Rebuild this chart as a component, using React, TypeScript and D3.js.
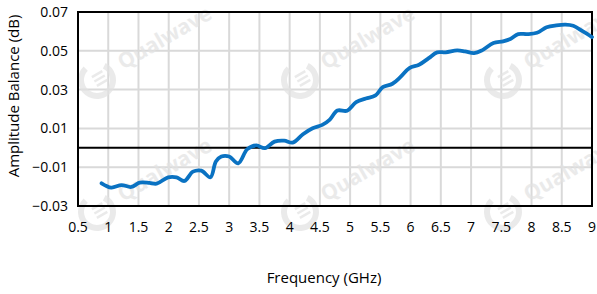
import React from "react";
import * as d3 from "d3";

const freq = [0.89, 1.05, 1.22, 1.38, 1.52, 1.68, 1.8, 1.99, 2.13, 2.26, 2.4, 2.54, 2.69, 2.78, 2.87, 3.0, 3.15, 3.3, 3.45, 3.59, 3.75, 3.91, 4.05, 4.22, 4.38, 4.54, 4.66, 4.79, 4.95, 5.1, 5.26, 5.42, 5.54, 5.7, 5.83, 5.98, 6.14, 6.3, 6.44, 6.58, 6.77, 6.9, 7.05, 7.18, 7.37, 7.53, 7.65, 7.78, 7.93, 8.09, 8.25, 8.41, 8.56, 8.69, 8.85, 9.0];
const balance = [-0.0183, -0.0205, -0.0192, -0.0202, -0.018, -0.0181, -0.0185, -0.0152, -0.0152, -0.0171, -0.0123, -0.0118, -0.0152, -0.0071, -0.0045, -0.0045, -0.008, -0.0007, 0.0012, -0.0002, 0.0032, 0.0037, 0.0027, 0.007, 0.0101, 0.0118, 0.0144, 0.0192, 0.0191, 0.0235, 0.0254, 0.027, 0.0313, 0.033, 0.0364, 0.0411, 0.0428, 0.0462, 0.0492, 0.0492, 0.0502, 0.0497, 0.0488, 0.0502, 0.054, 0.0549, 0.0561, 0.0586, 0.0586, 0.0593, 0.0621, 0.0631, 0.0635, 0.0629, 0.06, 0.0571];
const xTicks = [0.5, 1, 1.5, 2, 2.5, 3, 3.5, 4, 4.5, 5, 5.5, 6, 6.5, 7, 7.5, 8, 8.5, 9];
const yTicks = [-0.03, -0.01, 0.01, 0.03, 0.05, 0.07];
const xTitle = "Frequency (GHz)";
const yTitle = "Amplitude Balance (dB)";
const watermark = "Qualwave";

const W = 597, H = 294;
const L = 78, R = 592, T = 12, B = 206;
const font = "'Open Sans', 'Noto Sans', sans-serif";

export default function App() {
  const x = d3.scaleLinear().domain([0.5, 9]).range([L, R]);
  const y = d3.scaleLinear().domain([-0.03, 0.07]).range([B, T]);
  const pts = freq.map((f, i) => [f, balance[i]] as [number, number]);
  const line = d3.line<[number, number]>().x(d => x(d[0])).y(d => y(d[1])).curve(d3.curveCatmullRom.alpha(0.5));
  const wmPos: [number, number][] = [];
  [0, 1].forEach(r => [0, 1, 2].forEach(c => wmPos.push([97 + c * 203, 80 + r * 132])));

  return (
    <svg width={W} height={H} style={{ position: "absolute", left: 0, top: 0, background: "#fff" }}>
      <rect x={0} y={0} width={W} height={H} fill="#fff" />
      {xTicks.slice(1, -1).map(t => (
        <line key={"vx" + t} x1={x(t)} x2={x(t)} y1={T} y2={B} stroke="#d9d9d9" strokeWidth={2} />
      ))}
      {yTicks.slice(1, -1).map(t => (
        <line key={"hy" + t} x1={L} x2={R} y1={y(t)} y2={y(t)} stroke="#d9d9d9" strokeWidth={2} />
      ))}
      {wmPos.map(([cx, cy], i) => (
        <g key={"wm" + i} opacity={0.7} fill="none" stroke="#e2e2e2">
          <path d={d3.arc()({ innerRadius: 13, outerRadius: 19, startAngle: 0.15 * Math.PI, endAngle: 1.75 * Math.PI }) || ""} transform={`translate(${cx},${cy})`} fill="#e2e2e2" stroke="none" />
          <g transform={`translate(${cx},${cy}) rotate(-30)`} stroke="#e2e2e2" strokeWidth={2.5}>
            <line x1={-3} x2={9} y1={-5} y2={-5} />
            <line x1={-3} x2={9} y1={0} y2={0} />
            <line x1={-3} x2={9} y1={5} y2={5} />
          </g>
          <text x={cx + 26} y={cy - 10} transform={`rotate(-30 ${cx + 26} ${cy - 10})`} fill="#e2e2e2" stroke="none" fontFamily={font} fontWeight={700} fontSize={21}>{watermark}</text>
        </g>
      ))}
      <line x1={L} x2={R} y1={y(0)} y2={y(0)} stroke="#000" strokeWidth={2} />
      <rect x={L} y={T} width={R - L} height={B - T} fill="none" stroke="#000" strokeWidth={2} />
      <path d={line(pts) || ""} fill="none" stroke="#0a72c2" strokeWidth={3.8} strokeLinejoin="round" strokeLinecap="round" />
      {yTicks.map(t => (
        <text key={"yl" + t} x={L - 10} y={y(t)} dy="0.35em" textAnchor="end" fontFamily={font} fontSize={14} fill="#000">{d3.format(".2f")(t)}</text>
      ))}
      {xTicks.map(t => (
        <text key={"xl" + t} x={x(t)} y={232} textAnchor="middle" fontFamily={font} fontSize={14} fill="#000">{String(t)}</text>
      ))}
      <text x={324} y={283} textAnchor="middle" fontFamily={font} fontSize={15} fill="#000">{xTitle}</text>
      <text transform={`translate(19,96) rotate(-90)`} textAnchor="middle" fontFamily={font} fontSize={15} fill="#000">{yTitle}</text>
    </svg>
  );
}
